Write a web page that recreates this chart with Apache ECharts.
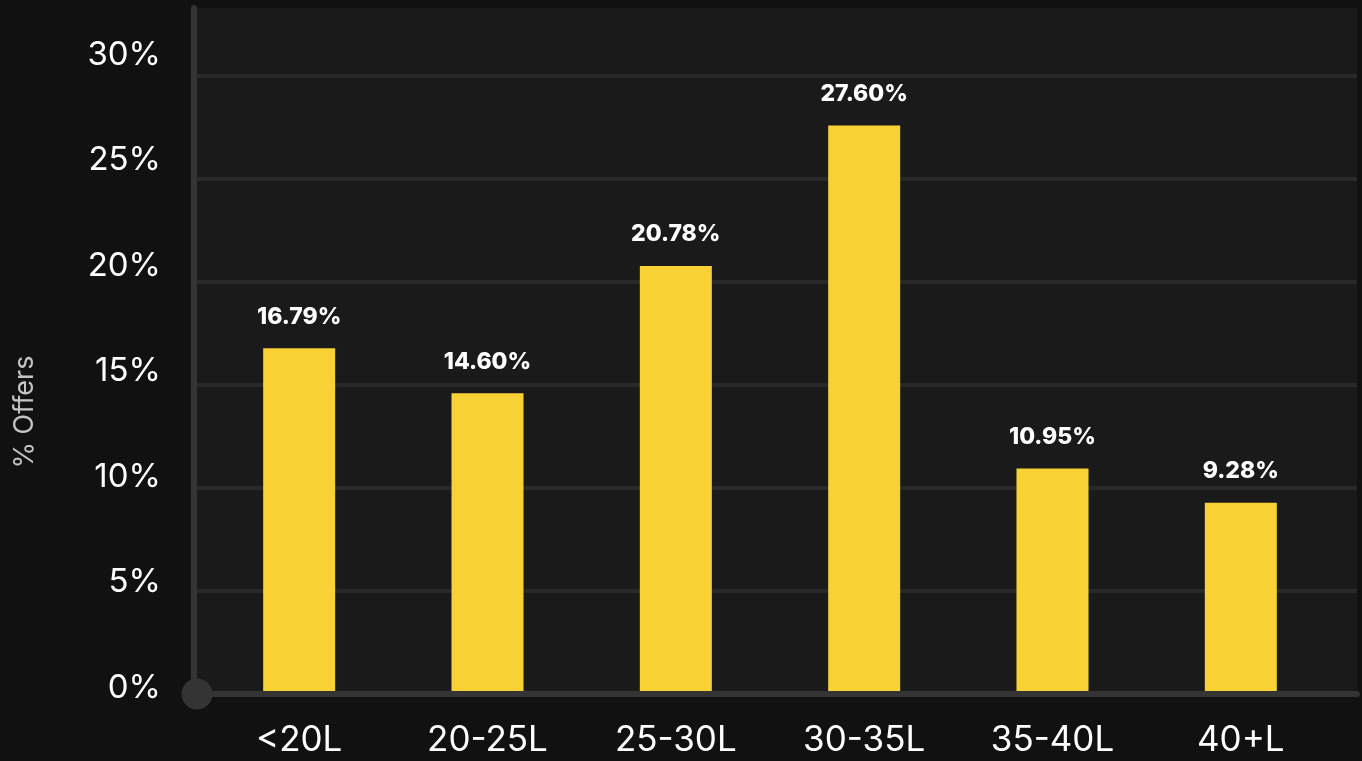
<!DOCTYPE html>
<html>
<head>
<meta charset="utf-8">
<script src="https://cdn.jsdelivr.net/npm/echarts@6/dist/echarts.min.js"></script>
<style>
  html, body { margin: 0; padding: 0; background: #111111; }
  #chart { width: 1362px; height: 761px; }
</style>
</head>
<body>
<div id="chart"></div>
<script>
const categories = ['<20L', '20-25L', '25-30L', '30-35L', '35-40L', '40+L'];
const offerShares = [16.79, 14.60, 20.78, 27.60, 10.95, 9.28];
const yAxisName = '% Offers';
const yMin = 0, yMax = 30, yStep = 5;

const FONT = 'Inter, "Noto Sans", sans-serif';
const chart = echarts.init(document.getElementById('chart'));

const hiddenValueAxis = (gi) => ({ gridIndex: gi, type: 'value', show: false, min: yMin, max: yMax });

chart.setOption({
  backgroundColor: '#111111',
  animation: false,
  grid: [
    { left: 194, right: 5, top: 8, bottom: 67, show: true, backgroundColor: '#1a1a1a', borderWidth: 0 },
    { left: 194, right: 5, top: 76, bottom: 67 },
    { left: 194, right: 5, top: 55, bottom: 73 },
    { left: 205, right: 27, top: 76, bottom: 67 }
  ],
  xAxis: [
    {
      gridIndex: 0, type: 'value', min: 0, max: 1, z: 5,
      axisLine: { show: true, lineStyle: { color: '#343434', width: 6 },
        symbol: ['circle', 'none'], symbolSize: [31, 31], symbolOffset: [3, 0] },
      axisTick: { show: false }, axisLabel: { show: false }, splitLine: { show: false }
    },
    { gridIndex: 1, type: 'value', show: false },
    { gridIndex: 2, type: 'value', show: false },
    {
      gridIndex: 3, type: 'category', data: categories,
      axisLine: { show: false }, axisTick: { show: false },
      axisLabel: { color: '#ffffff', fontSize: 35, fontFamily: FONT, margin: 29 }
    }
  ],
  yAxis: [
    {
      gridIndex: 0, type: 'value', min: 0, max: 1, z: 5,
      axisLine: { show: true, lineStyle: { color: '#343434', width: 6 } },
      axisTick: { show: false }, axisLabel: { show: false }, splitLine: { show: false }
    },
    {
      gridIndex: 1, type: 'value', min: yMin, max: yMax, interval: yStep,
      axisLine: { show: false }, axisTick: { show: false }, axisLabel: { show: false },
      splitLine: { show: true, lineStyle: { color: '#292929', width: 4 } }
    },
    {
      gridIndex: 2, type: 'value', min: yMin, max: yMax, interval: yStep,
      axisLine: { show: false }, axisTick: { show: false }, splitLine: { show: false },
      axisLabel: { color: '#ffffff', fontSize: 33, fontFamily: FONT, margin: 33, formatter: '{value}%' }
    },
    hiddenValueAxis(3)
  ],
  graphic: [
    {
      type: 'text', rotation: Math.PI / 2,
      x: 25, y: 412,
      style: { text: yAxisName, fill: '#c4c4c4', font: '27px ' + FONT, textAlign: 'center', textVerticalAlign: 'middle' }
    }
  ],
  series: [
    {
      type: 'bar', xAxisIndex: 3, yAxisIndex: 3, data: offerShares,
      barWidth: 72,
      itemStyle: { color: '#F8D134' },
      label: {
        show: true, position: 'top', distance: 20,
        color: '#ffffff', fontSize: 23, fontWeight: 800, fontFamily: FONT,
        formatter: (p) => p.value.toFixed(2) + '%'
      }
    }
  ]
});
</script>
</body>
</html>
